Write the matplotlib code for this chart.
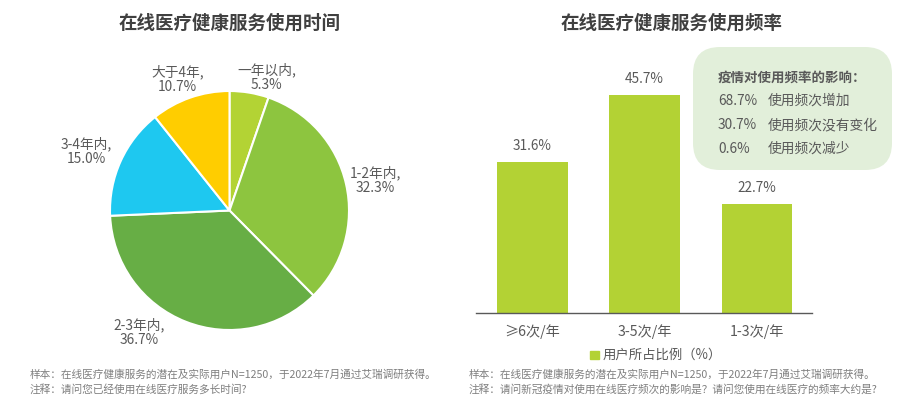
import numpy as np
import matplotlib.pyplot as plt
from matplotlib.patches import FancyBboxPatch, Rectangle

plt.rcParams['font.family'] = ['Noto Sans CJK SC', 'DejaVu Sans']

# pie data
dur_labels = ['一年以内', '1-2年内', '2-3年内', '3-4年内', '大于4年']
dur_values = [5.3, 32.3, 36.7, 15.0, 10.7]
dur_colors = ['#b3d334', '#8dc53f', '#67ae45', '#1ec8f0', '#ffcd00']
label_dist = [1.16, 1.245, 1.27, 1.30, 1.18]
label_turn = [-6, -1, -15, 2, 2.4]

# bar data
freq_cats = ['≥6次/年', '3-5次/年', '1-3次/年']
freq_values = [31.6, 45.7, 22.7]

# box data
impact_values = ['68.7%', '30.7%', '0.6%']
impact_labels = ['使用频次增加', '使用频次没有变化', '使用频次减少']

txt = '#595959'
fig = plt.figure(figsize=(9, 3.97), dpi=100)
W, H = 900, 397

def fx(px):
    return px / W

def fy(py):
    return 1 - py / H

# ---- pie
R = 119.5
half = 170
ax1 = fig.add_axes([fx(229.5 - half), fy(210.5 + half), 2 * half / W, 2 * half / H])
wedges, _ = ax1.pie(dur_values, colors=dur_colors, startangle=90, counterclock=False,
                    radius=1, wedgeprops=dict(edgecolor='white', linewidth=1.5))
lim = half / R
ax1.set_xlim(-lim, lim)
ax1.set_ylim(-lim, lim)
ax1.set_aspect('auto')
ax1.axis('off')
for w, lab, val, d, t in zip(wedges, dur_labels, dur_values, label_dist, label_turn):
    ang = np.deg2rad((w.theta1 + w.theta2) / 2 + t)
    ax1.text(d * np.cos(ang), d * np.sin(ang), f'{lab},\n{val:.1f}%', ha='center', va='center',
             fontsize=9.9, color=txt, linespacing=1.05)

fig.text(fx(230), fy(23), '在线医疗健康服务使用时间', ha='center', va='center',
         fontsize=13.3, fontweight='bold', color='#404040')

# ---- bars
scale = 4.78
top_px = 40
ax2 = fig.add_axes([fx(476), fy(313), fx(812) - fx(476), (313 - top_px) / H])
x = np.arange(len(freq_cats))
ax2.bar(x, freq_values, width=0.63, color='#b3d234')
ax2.set_xlim(-0.5, 2.49)
ax2.set_ylim(0, (313 - top_px) / scale)
for xi, v in zip(x, freq_values):
    ax2.annotate(f'{v}%', (xi, v), xytext=(0, 16), textcoords='offset pixels',
                 ha='center', va='center', fontsize=9.8, color=txt)
for s in ['top', 'right', 'left']:
    ax2.spines[s].set_visible(False)
ax2.spines['bottom'].set_color('#595959')
ax2.spines['bottom'].set_linewidth(1)
ax2.set_yticks([])
ax2.set_xticks(x)
ax2.set_xticklabels(freq_cats, fontsize=10.2, color=txt)
ax2.tick_params(axis='x', length=0, pad=8)

fig.text(fx(672), fy(23), '在线医疗健康服务使用频率', ha='center', va='center',
         fontsize=13.3, fontweight='bold', color='#404040')

# legend
fig.patches.append(Rectangle((fx(590), fy(359)), fx(9), 8 / H, color='#b3d234',
                             transform=fig.transFigure, figure=fig))
fig.text(fx(603), fy(355), '用户所占比例（%）', ha='left', va='center', fontsize=9.6, color=txt)

# box
box = FancyBboxPatch((fx(693), fy(170)), fx(892) - fx(693), (170 - 47) / H,
                     boxstyle='round,pad=0,rounding_size=0.03', transform=fig.transFigure,
                     facecolor='#e2efda', edgecolor='none', figure=fig,
                     mutation_aspect=W / H)
fig.patches.append(box)
fig.text(fx(718), fy(78), '疫情对使用频率的影响：', ha='left', va='center', fontsize=9.7,
         fontweight='bold', color=txt)
for i, (v, lab) in enumerate(zip(impact_values, impact_labels)):
    yy = fy(101 + 24 * i)
    fig.text(fx(718), yy, v, ha='left', va='center', fontsize=9.9, color=txt)
    fig.text(fx(768), yy, lab, ha='left', va='center', fontsize=9.9, color=txt)

# footnotes
foot = '#7f7f7f'
fs = 7.7
fig.text(fx(30), fy(374), '样本：在线医疗健康服务的潜在及实际用户N=1250，于2022年7月通过艾瑞调研获得。',
         ha='left', va='center', fontsize=fs, color=foot)
fig.text(fx(30), fy(389), '注释：请问您已经使用在线医疗服务多长时间?', ha='left', va='center',
         fontsize=fs, color=foot)
fig.text(fx(469), fy(374), '样本：在线医疗健康服务的潜在及实际用户N=1250，于2022年7月通过艾瑞调研获得。',
         ha='left', va='center', fontsize=fs, color=foot)
fig.text(fx(469), fy(389), '注释：请问新冠疫情对使用在线医疗频次的影响是？请问您使用在线医疗的频率大约是?',
         ha='left', va='center', fontsize=fs, color=foot)

fig.savefig('out.png', dpi=100)
